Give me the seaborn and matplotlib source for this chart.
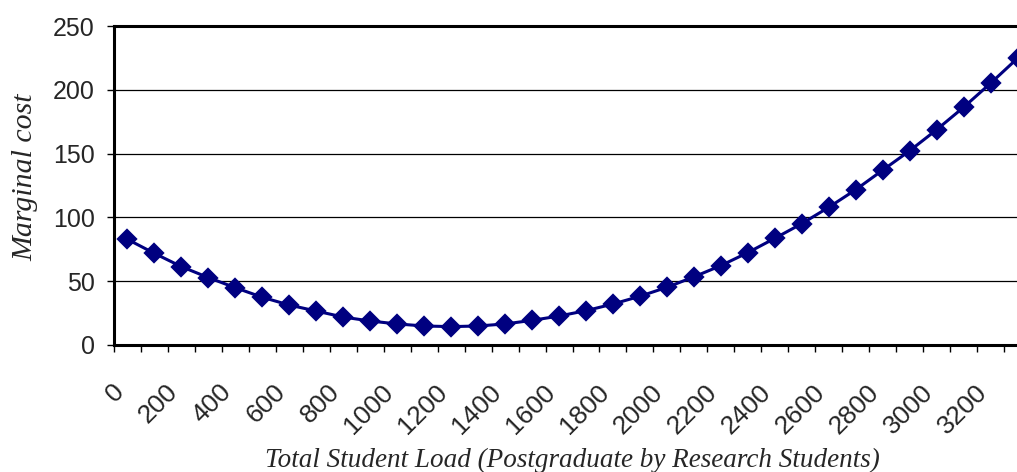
import numpy as np
import pandas as pd
import matplotlib
matplotlib.use("Agg")
import matplotlib.pyplot as plt
from matplotlib.transforms import ScaledTranslation
import seaborn as sns

# Student load categories (every 100 students) and the marginal cost at each
student_load = list(range(0, 3400, 100))
marginal_cost = [82.8, 71.8, 61.4, 52.8, 44.9, 37.4, 31.3, 26.6, 21.9, 18.8,
                 16.5, 14.9, 14.4, 14.9, 16.5, 19.3, 22.7, 26.9, 32.1, 38.2,
                 45.2, 53.4, 62.2, 72.4, 83.6, 95.1, 107.9, 121.7, 137.0, 152.2,
                 168.7, 186.3, 205.1, 224.7]
y_ticks = [0, 50, 100, 150, 200, 250]

df = pd.DataFrame({"load": student_load, "cost": marginal_cost})

sns.set_style("white")
plt.rcParams["font.family"] = ["Liberation Sans", "DejaVu Sans"]

fig = plt.figure(figsize=(10.17, 4.72), dpi=100)
ax = fig.add_axes([114 / 1017, 127 / 472, 917 / 1017, 319 / 472])

sns.pointplot(data=df, x="load", y="cost", ax=ax, color="#000080",
              marker="D", markersize=9, linewidth=2.2, errorbar=None)

n = len(student_load)
ax.set_xlim(-0.5, n - 0.5)
ax.set_ylim(0, 250)

# y axis: ticks every 50 with horizontal gridlines
ax.set_yticks(y_ticks)
ax.set_yticklabels([str(v) for v in y_ticks], fontsize=18)
ax.yaxis.grid(True, color="black", linewidth=0.9)
ax.set_axisbelow(True)
ax.tick_params(axis="y", which="major", direction="out", length=5, width=1,
               pad=9, left=True, color="black")

# x axis: tick marks between categories, labels on every second category
ax.set_xticks(range(0, n, 2))
ax.set_xticklabels([str(v) for v in student_load[::2]], fontsize=19,
                   rotation=45, ha="right", va="top", rotation_mode="anchor")
ax.set_xticks(np.arange(-0.5, n, 1), minor=True)
ax.tick_params(axis="x", which="major", length=0, pad=25)
ax.tick_params(axis="x", which="minor", direction="out", length=5,
               width=1, bottom=True, color="black")
shift = ScaledTranslation(-16 / 100, 0, fig.dpi_scale_trans)
for lbl in ax.get_xticklabels():
    lbl.set_transform(lbl.get_transform() + shift)

for side in ["left", "bottom", "top"]:
    ax.spines[side].set_color("black")
    ax.spines[side].set_linewidth(2.2)
ax.spines["right"].set_visible(False)

serif = ["Liberation Serif", "DejaVu Serif"]
ax.set_xlabel("Total Student Load (Postgraduate by Research Students)",
              fontsize=19.5, fontstyle="italic", family=serif)
ax.set_ylabel("Marginal cost", fontsize=21.5, fontstyle="italic", family=serif)
ax.xaxis.set_label_coords(0.5, -0.322)
ax.yaxis.set_label_coords(-0.082, 0.525)

fig.savefig("out.png", dpi=100)
